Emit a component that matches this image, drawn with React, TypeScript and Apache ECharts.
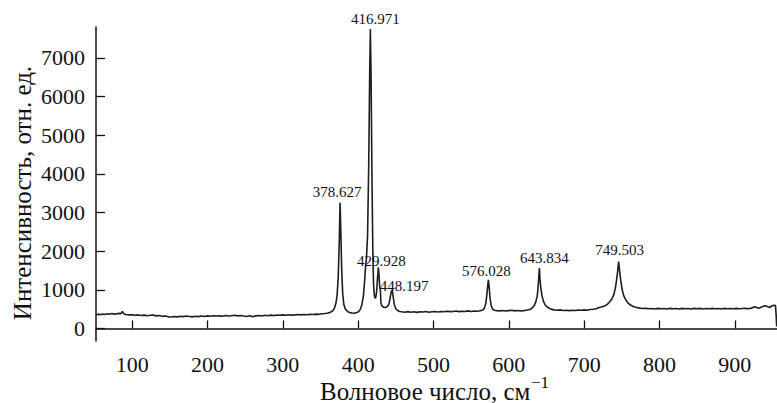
import React, { useEffect, useRef } from "react";
import * as echarts from "echarts";

const wavenumbers = [
  52, 55, 58, 61, 64, 67, 70, 73, 76, 79, 82, 85, 87, 89, 92, 96, 100, 104, 108, 112, 116, 120, 124, 128, 132,
  136, 140, 144, 148, 152, 156, 160, 164, 168, 172, 176, 180, 184, 188, 192, 196, 200, 204, 208, 212, 216, 220,
  224, 228, 232, 236, 240, 244, 248, 252, 256, 260, 264, 268, 272, 276, 280, 284, 288, 292, 296, 300, 304, 308,
  312, 316, 320, 324, 328, 332, 336, 340, 344, 348, 352, 356, 360, 363, 366, 368.5, 370.5, 372, 373.5, 375, 376,
  377, 378.2, 379.5, 381, 383, 386, 389, 392, 395, 398, 401, 403, 405, 407, 408.5, 410, 411, 412.5, 414, 415.3,
  416.2, 417.1, 418.3, 419.4, 420.4, 421.5, 422.5, 423.5, 424.5, 425.5, 426.8, 427.8, 428.6, 429.5, 430.3, 431.5,
  433, 435, 437, 439, 441, 442.5, 443.8, 445.2, 446.5, 448, 450, 452, 455, 458, 462, 466, 470, 474, 478, 482, 486,
  490, 494, 498, 502, 506, 510, 514, 518, 522, 526, 530, 534, 538, 542, 546, 550, 554, 558, 562, 565, 567.5, 569.5,
  571, 572.2, 572.9, 573.8, 575, 576.5, 578.5, 581, 584, 588, 592, 596, 600, 604, 608, 612, 616, 620, 624, 628, 631,
  634, 636, 637.8, 639, 640, 640.6, 641.3, 642.5, 644, 646, 648.5, 652, 656, 660, 664, 668, 672, 676, 680, 684, 688,
  692, 696, 700, 704, 708, 712, 716, 720, 724, 728, 731, 734, 737, 739.5, 741.5, 743, 744.5, 745.8, 747, 748.5,
  750.5, 752.5, 755, 758, 762, 766, 770, 774, 778, 782, 786, 790, 794, 798, 802, 806, 810, 814, 818, 822, 826, 830,
  834, 838, 842, 846, 850, 854, 858, 862, 866, 870, 874, 878, 882, 886, 890, 894, 898, 902, 906, 910, 914, 918, 922,
  926, 929, 932, 936, 940, 943, 946, 949, 952, 954, 955, 955.5,
];

const intensity = [
  350, 370, 355, 375, 360, 380, 365, 385, 370, 375, 390, 380, 440, 375, 360, 350, 355, 340, 350, 335, 345, 330, 340,
  345, 325, 335, 315, 320, 300, 295, 310, 300, 315, 305, 320, 310, 300, 315, 305, 320, 310, 325, 315, 330, 320, 325,
  315, 335, 320, 330, 340, 325, 335, 320, 310, 330, 305, 325, 335, 320, 340, 330, 345, 335, 345, 340, 350, 340, 355,
  345, 350, 360, 350, 360, 355, 365, 360, 370, 365, 380, 385, 400, 420, 450, 520, 650, 850, 1300, 2300, 3250, 2500,
  1500, 900, 620, 500, 440, 410, 400, 395, 410, 440, 500, 620, 850, 1200, 1650, 1800, 2400, 4200, 6600, 7750, 6600,
  4000, 2100, 1150, 850, 780, 810, 950, 1250, 1580, 1350, 1080, 980, 650, 580, 560, 540, 550, 570, 640, 800, 940,
  1000, 820, 620, 510, 470, 440, 430, 420, 435, 420, 430, 415, 430, 425, 440, 420, 430, 440, 425, 440, 430, 445, 435,
  440, 450, 435, 445, 440, 455, 440, 450, 445, 460, 470, 520, 650, 900, 1150, 1260, 1100, 800, 600, 500, 470, 460,
  455, 465, 450, 460, 470, 455, 465, 450, 460, 475, 490, 530, 600, 700, 850, 1100, 1400, 1560, 1300, 1050, 850, 700,
  600, 540, 500, 480, 470, 480, 465, 470, 460, 470, 465, 475, 470, 480, 470, 490, 495, 510, 540, 560, 590, 630, 690,
  770, 880, 1050, 1250, 1480, 1730, 1500, 1250, 1000, 850, 750, 660, 600, 560, 540, 525, 515, 520, 510, 515, 505,
  520, 510, 515, 505, 520, 510, 515, 505, 520, 510, 515, 505, 520, 510, 520, 505, 515, 510, 520, 510, 515, 505, 520,
  510, 515, 510, 520, 510, 515, 520, 510, 525, 560, 540, 520, 560, 590, 570, 540, 580, 600, 590, 300, 50,
];

const xTicks = [100, 200, 300, 400, 500, 600, 700, 800, 900];
const yTicks = [0, 1000, 2000, 3000, 4000, 5000, 6000, 7000];

const peakLabels = ["378.627", "416.971", "429.928", "448.197", "576.028", "643.834", "749.503"];
const peakPositions = [376, 416.2, 426.8, 445.2, 572.9, 640.6, 745.8];
const peakHeights = [3250, 7750, 1580, 1000, 1260, 1560, 1730];

const xTitle = "Волновое число, см";
const xTitleSup = "−1";
const yTitle = "Интенсивность, отн. ед.";

const labelOffsets = [
  [-3, -10.5],
  [5, -10],
  [3, -6.5],
  [12, -4],
  [-2, -9],
  [5, -10],
  [1, -12],
];

const FONT = "'Liberation Serif', 'Times New Roman', serif";

export default function App() {
  const ref = useRef<HTMLDivElement>(null);

  useEffect(() => {
    if (!ref.current) return;
    const chart = echarts.init(ref.current, undefined, { renderer: "svg" });
    const points = wavenumbers.map((w, i) => [w, intensity[i]]);
    chart.setOption({
      animation: false,
      backgroundColor: "#ffffff",
      grid: { left: 96, top: 27, right: 0, bottom: 62, containLabel: false },
      xAxis: {
        type: "value",
        min: 52,
        max: 956,
        axisLine: { show: true, lineStyle: { color: "#111", width: 1.5 } },
        axisTick: { show: true, inside: true, length: 8, lineStyle: { color: "#111", width: 1.3 }, customValues: xTicks },
        axisLabel: {
          show: true,
          customValues: xTicks,
          formatter: (v: number) => String(v),
          fontFamily: FONT,
          fontSize: 22,
          color: "#111",
          margin: 12,
        },
        splitLine: { show: false },
      },
      yAxis: {
        type: "value",
        min: -325,
        max: 7800,
        axisLine: { show: true, lineStyle: { color: "#111", width: 1.5 } },
        axisTick: { show: true, inside: true, length: 9, lineStyle: { color: "#111", width: 1.3 }, customValues: yTicks },
        axisLabel: {
          show: true,
          customValues: yTicks,
          formatter: (v: number) => String(v),
          fontFamily: FONT,
          fontSize: 22,
          color: "#111",
          margin: 11,
        },
        splitLine: { show: false },
      },
      graphic: [
        {
          type: "text",
          x: 22,
          y: 193,
          rotation: Math.PI / 2,
          style: {
            text: yTitle,
            fontFamily: FONT,
            fontSize: 25,
            fill: "#111",
            align: "center",
            verticalAlign: "middle",
          },
        },
        {
          type: "text",
          x: 320,
          y: 391,
          style: {
            text: xTitle,
            fontFamily: FONT,
            fontSize: 25,
            fill: "#111",
            align: "left",
            verticalAlign: "middle",
          },
        },
        {
          type: "text",
          x: 531,
          y: 382,
          style: {
            text: xTitleSup,
            fontFamily: FONT,
            fontSize: 17,
            fill: "#111",
            align: "left",
            verticalAlign: "middle",
          },
        },
      ],
      series: [
        {
          type: "line",
          data: points,
          showSymbol: false,
          symbol: "none",
          lineStyle: { color: "#1e1e1e", width: 1.6 },
          silent: true,
          markPoint: {
            symbol: "circle",
            symbolSize: 0,
            silent: true,
            label: {
              show: true,
              position: "inside",
              fontFamily: FONT,
              fontSize: 15,
              color: "#111",
            },
            data: peakLabels.map((t, i) => ({
              coord: [peakPositions[i], peakHeights[i]],
              value: t,
              label: { formatter: t, offset: labelOffsets[i] },
            })),
          },
        },
      ],
    });
    return () => chart.dispose();
  }, []);

  return (
    <div
      ref={ref}
      style={{ position: "fixed", left: 0, top: 0, width: 777, height: 403, background: "#fff" }}
    />
  );
}
